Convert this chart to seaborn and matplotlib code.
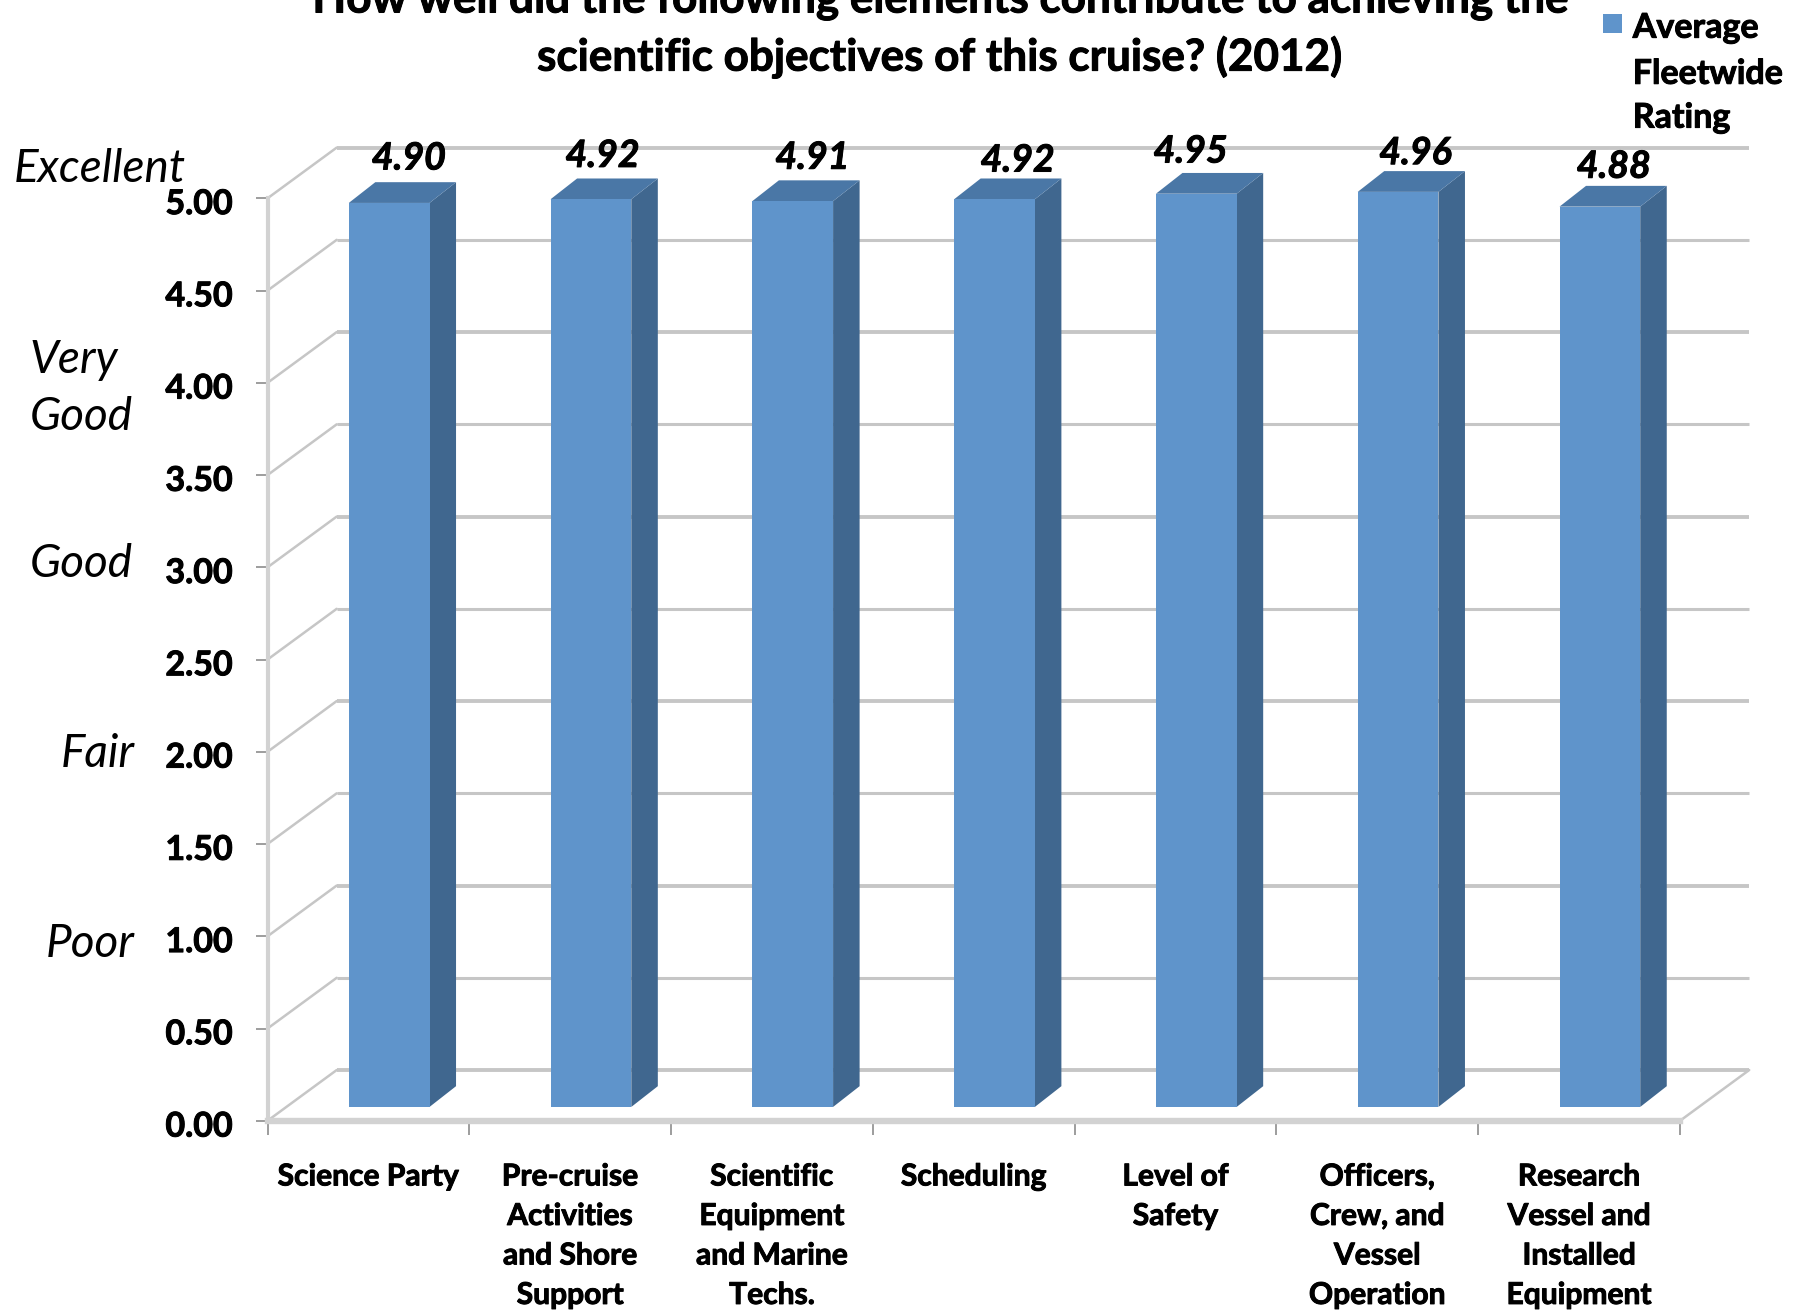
import numpy as np
import pandas as pd
import matplotlib
matplotlib.use("Agg")
import matplotlib.pyplot as plt
import matplotlib.patheffects as pe
from matplotlib.patches import Rectangle
from matplotlib.text import Text
from matplotlib.transforms import ScaledTranslation
import seaborn as sns

elements = ["Science Party", "Pre-cruise\nActivities\nand Shore\nSupport",
            "Scientific\nEquipment\nand Marine\nTechs.", "Scheduling", "Level of\nSafety",
            "Officers,\nCrew, and\nVessel\nOperation", "Research\nVessel and\nInstalled\nEquipment"]
ratings = [4.90, 4.92, 4.91, 4.92, 4.95, 4.96, 4.88]
y_ticks = [0, .5, 1, 1.5, 2, 2.5, 3, 3.5, 4, 4.5, 5]
title_text = "How well did the following elements contribute to achieving the\nscientific objectives of this cruise? (2012)"
legend_text = ["Average", "Fleetwide", "Rating"]
scale_labels = ["Excellent", "Very\nGood", "Good", "Fair", "Poor"]

W, H = 1808, 1312
DW = 1568.0
S = W / DW
DH = H / S

sns.set_style("white")
plt.rcParams["font.family"] = ["Lato", "DejaVu Sans"]

FRONT, SIDE, TOP = "#5f94cb", "#40678f", "#4a77a6"
GRID, FLOOR = "#c6c6c6", "#d2d2d2"

fig = plt.figure(figsize=(W / 100, H / 100), dpi=100, facecolor="white")
ax = fig.add_axes([232 / DW, 1 - 972 / DH, (1457 - 232) / DW, 800 / DH])

df = pd.DataFrame({"element": elements, "rating": ratings})
sns.barplot(data=df, x="element", y="rating", color=FRONT, saturation=1, width=0.40,
            ax=ax, zorder=4, linewidth=0)
ax.set_xlim(-0.5, 6.5)
ax.set_ylim(0, 5)

# depth of the chart's back wall and bars, axis units
wall_dx, wall_dy = 60 / 175, 44 / 160
bar_dx, bar_dy = 23 / 175, 18 / 160
shift_x, base_y = 18 / 175, 12 / 160

for y in y_ticks:
    thick = 2.8 if (y * 2) % 2 == 0 else 2.2
    ax.plot([-0.5 + wall_dx, 6.5 + wall_dx], [y + wall_dy] * 2, color=GRID, lw=thick, clip_on=False, zorder=1,
            solid_capstyle="butt")
    ax.plot([-0.5, -0.5 + wall_dx], [y, y + wall_dy], color=GRID, lw=1.8, clip_on=False, zorder=1)
ax.plot([6.5, 6.5 + wall_dx], [0, wall_dy], color=GRID, lw=1.8, clip_on=False, zorder=1)

label_dx = [17, 10, 17, 20, -5, 15, 12]
label_dy = [21, 20, 20, 16, 19, 16, 17]
for p, v, ldx, ldy in zip(ax.patches, ratings, label_dx, label_dy):
    p.set_x(p.get_x() + shift_x)
    p.set_y(base_y)
    p.set_clip_on(False)
    x0, x1 = p.get_x(), p.get_x() + p.get_width()
    y0, y1 = base_y, base_y + v
    ax.fill([x1, x1 + bar_dx, x1 + bar_dx, x1], [y0, y0 + bar_dy, y1 + bar_dy, y1],
            color=SIDE, lw=0, zorder=3, clip_on=False)
    ax.fill([x0, x0 + bar_dx, x1 + bar_dx, x1], [y1, y1 + bar_dy, y1 + bar_dy, y1],
            color=TOP, lw=0, zorder=3, clip_on=False)
    ax.annotate(f"{v:.2f}", xy=((x0 + x1) / 2, y1 + bar_dy), xytext=(ldx * S * .72, ldy * S * .72),
                textcoords="offset points", ha="center", va="center", fontsize=27,
                fontweight="bold", fontstyle="italic", color="black", annotation_clip=False, zorder=6)

for side in ["top", "right"]:
    ax.spines[side].set_visible(False)
ax.spines["left"].set(color=FLOOR, linewidth=3.0, zorder=2)
ax.spines["bottom"].set(color=FLOOR, linewidth=4.6, zorder=2)

ax.set_xlabel("")
ax.set_ylabel("")
ax.set_yticks(y_ticks)
ax.set_yticklabels([f"{t:.2f}" for t in y_ticks], fontsize=24.5, fontweight="bold", color="black")
ax.set_xticks(range(len(elements)))
ax.set_xticklabels(elements, fontsize=21.6, fontweight="bold", color="black", linespacing=1.5, va="top")
ax.set_xticks(np.arange(-0.5, 7), minor=True)
ax.tick_params(axis="x", which="major", length=0, pad=30, bottom=True)
ax.tick_params(axis="x", which="minor", length=10, width=1.2, color="#8c8c8c", bottom=True)
ax.tick_params(axis="y", which="major", length=9, width=1.2, color="#8c8c8c", pad=16, left=True)
for lab in ax.get_xticklabels():
    lab.set_ha("center")
down = ScaledTranslation(0, -2.0 / 72, fig.dpi_scale_trans)
for lab in ax.get_yticklabels():
    lab.set_transform(lab.get_transform() + down)

fig.text(815 / DW, 1 - 25 / DH, title_text, ha="center", va="center", fontsize=31.7,
         fontweight="bold", linespacing=1.46, color="black")

fig.patches.append(Rectangle((1390 / DW, 1 - 29 / DH), 17 / DW, 17 / DH, transform=fig.transFigure,
                             facecolor=FRONT, edgecolor="none"))
for line, yy in zip(legend_text, [24, 64, 102]):
    fig.text(1416 / DW, 1 - yy / DH, line, ha="left", va="center", fontsize=24.5, fontweight="bold",
             color="black")

for text, xx, yy, ha in zip(scale_labels, [12, 26, 26, 53, 40], [147, 337, 489, 654, 819],
                            ["left"] * 5):
    fig.text(xx / DW, 1 - yy / DH, text, ha=ha, va="center", fontsize=33, fontstyle="italic",
             linespacing=1.45, color="black")

# the reference's bold type is a little heavier than Lato Bold
for t in fig.findobj(Text):
    if t.get_fontweight() == "bold":
        t.set_path_effects([pe.withStroke(linewidth=0.7, foreground="black")])

fig.savefig("out.png", dpi=100)
